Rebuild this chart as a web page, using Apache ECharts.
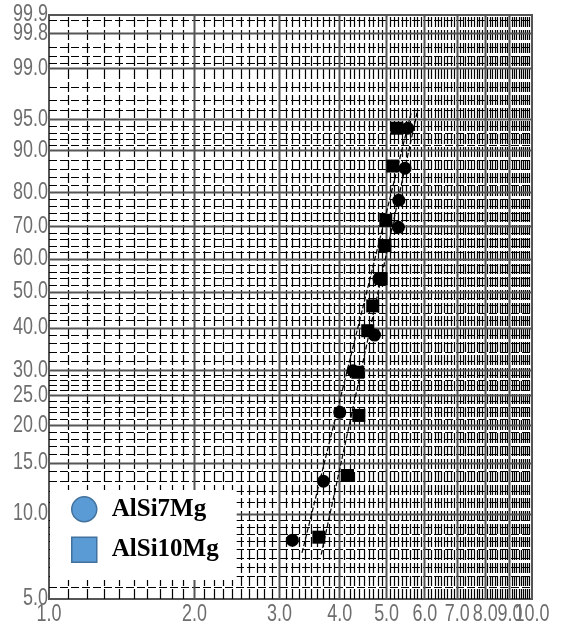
<!DOCTYPE html>
<html><head><meta charset="utf-8">
<script src="https://cdn.jsdelivr.net/npm/echarts@6/dist/echarts.min.js"></script>
<style>html,body{margin:0;padding:0;background:#fff}#c{width:572px;height:626px}</style>
</head><body><div id="c"></div>
<script>
// ---- data (x: strength-like variable on log scale, p: cumulative probability %) ----
const xAlSi7Mg  = [3.19, 3.70, 4.00, 4.26, 4.72, 4.82, 4.96, 5.29, 5.30, 5.46, 5.53];
const pAlSi7Mg  = [8.1, 13.0, 22.1, 29.9, 38.2, 54.0, 64.2, 69.9, 77.9, 86.2, 93.8];
const xAlSi10Mg = [3.62, 4.15, 4.38, 4.36, 4.57, 4.68, 4.87, 4.96, 4.98, 5.15, 5.25];
const pAlSi10Mg = [8.3, 13.6, 21.6, 29.6, 39.3, 46.0, 54.0, 64.2, 72.0, 86.7, 93.8];
// fitted lines (two end points each)
const fitAlSi7MgX  = [3.34, 5.62];
const fitAlSi7MgP  = [7.3, 95.8];
const fitAlSi10MgX = [3.66, 5.78];
const fitAlSi10MgP = [7.2, 95.8];
// tick labels
const xTickVals = [1, 2, 3, 4, 5, 6, 7, 8, 9, 10];
const xTickText = ['1.0','2.0','3.0','4.0','5.0','6.0','7.0','8.0','9.0','10.0'];
const yBottomPct = 5, yTopPct = 99.93;
const yTickVals = [5, 10, 15, 20, 25, 30, 40, 50, 60, 70, 80, 90, 95, 99, 99.8, yTopPct];
const yTickText = ['5.0','10.0','15.0','20.0','25.0','30.0','40.0','50.0','60.0','70.0','80.0','90.0','95.0','99.0','99.8','99.9'];
// probability-paper grid
const yMajorGrid = [10, 15, 20, 25, 30, 40, 50, 60, 70, 80, 90, 95, 99, 99.8];
const yMinorGrid = [5.5, 6, 6.5, 7, 7.5, 8, 8.5, 9, 9.5, 11, 12, 13, 14, 16, 17, 18, 19,
  21, 22, 23, 24, 26, 27, 28, 29, 32, 34, 36, 38, 42, 44, 46, 48, 52, 54, 56, 58,
  62, 64, 66, 68, 72, 74, 76, 78, 82, 84, 86, 88, 91, 92, 93, 94, 96, 97, 98,
  99.2, 99.4, 99.6, 99.9];
const xMajorGrid = [2, 3, 4, 5, 6, 7, 8, 9];
const xMinorGrid = [];
for (let i = 11; i < 100; i++) if (i % 10 !== 0) xMinorGrid.push(i / 10);

// Weibull probability transform
const wb = p => Math.log(-Math.log(1 - p / 100));
const yMin = wb(yBottomPct), yMax = wb(yTopPct);

const labelFont = "23px 'Liberation Sans', Arial, sans-serif";
const labelColor = '#6e6e6e';
const snap = v => Math.round(v - 0.5) + 0.5;

function hLine(style) {
  return function (params, api) {
    const t = api.value(1);
    const a = api.coord([1, t]), b = api.coord([10, t]);
    const y = snap(a[1]);
    return { type: 'line', shape: { x1: a[0], y1: y, x2: b[0], y2: y }, style: style };
  };
}
function vLine(style) {
  return function (params, api) {
    const xv = api.value(0);
    const a = api.coord([xv, yMin]), b = api.coord([xv, yMax]);
    const x = snap(a[0]);
    return { type: 'line', shape: { x1: x, y1: a[1], x2: x, y2: b[1] }, style: style };
  };
}
const solidStyle = { stroke: '#555', lineWidth: 2 };
const dashStyleH = { stroke: '#000', lineWidth: 1.1, lineDash: [8, 3] };
const dashStyleV = { stroke: '#000', lineWidth: 1.2, lineDash: [10, 3] };

const chart = echarts.init(document.getElementById('c'), null, { renderer: 'canvas' });
chart.setOption({
  animation: false,
  backgroundColor: '#fff',
  grid: { left: 49, right: 40, top: 15, bottom: 27, show: true, borderColor: '#555', borderWidth: 2, backgroundColor: '#fff' },
  xAxis: { type: 'log', logBase: 10, min: 1, max: 10, axisLine: { show: false }, axisTick: { show: false }, axisLabel: { show: false }, splitLine: { show: false } },
  yAxis: { type: 'value', min: yMin, max: yMax, axisLine: { show: false }, axisTick: { show: false }, axisLabel: { show: false }, splitLine: { show: false } },
  legend: {
    left: 50, top: 490, orient: 'vertical',
    backgroundColor: '#fff', padding: [6, 18, 17, 21],
    itemWidth: 25, itemHeight: 25, itemGap: 14,
    textStyle: { fontFamily: "'Liberation Serif', 'Times New Roman', serif", fontWeight: 'bold', fontSize: 25, color: '#000', padding: [0, 0, 0, 10] },
    data: [
      { name: 'AlSi7Mg', icon: 'circle', itemStyle: { color: '#5b9bd5', borderColor: '#41719c', borderWidth: 1.5 } },
      { name: 'AlSi10Mg', icon: 'rect', itemStyle: { color: '#5b9bd5', borderColor: '#41719c', borderWidth: 1.5 } }
    ]
  },
  series: [
    { type: 'custom', silent: true, renderItem: hLine(dashStyleH), data: yMinorGrid.map(p => [1, wb(p)]), z: 1 },
    { type: 'custom', silent: true, renderItem: vLine(dashStyleV), data: xMinorGrid.map(x => [x, yMin]), z: 1 },
    { type: 'custom', silent: true, renderItem: hLine(solidStyle), data: yMajorGrid.map(p => [1, wb(p)]), z: 1 },
    { type: 'custom', silent: true, renderItem: vLine(solidStyle), data: xMajorGrid.map(x => [x, yMin]), z: 1 },
    { type: 'custom', silent: true, clip: false,
      renderItem: function (params, api) {
        const c = api.coord([1, api.value(1)]);
        return { type: 'text', x: c[0] - 1, y: c[1], scaleX: 0.78, style: { text: yTickText[params.dataIndex], font: labelFont, fill: labelColor, align: 'right', verticalAlign: 'middle' } };
      },
      data: yTickVals.map(p => [1, wb(p)]), z: 3 },
    { type: 'custom', silent: true, clip: false,
      renderItem: function (params, api) {
        const c = api.coord([api.value(0), yMin]);
        return { type: 'text', x: c[0], y: c[1] + 16, scaleX: 0.78, style: { text: xTickText[params.dataIndex], font: labelFont, fill: labelColor, align: 'center', verticalAlign: 'middle' } };
      },
      data: xTickVals.map(x => [x, yMin]), z: 3 },
    { name: 'fit7', type: 'line', showSymbol: false, silent: true, lineStyle: { color: '#000', width: 1.2, type: [5, 2] },
      data: fitAlSi7MgX.map((x, i) => [x, wb(fitAlSi7MgP[i])]), z: 4 },
    { name: 'fit10', type: 'line', showSymbol: false, silent: true, lineStyle: { color: '#000', width: 1.2, type: [5, 2] },
      data: fitAlSi10MgX.map((x, i) => [x, wb(fitAlSi10MgP[i])]), z: 4 },
    { name: 'AlSi7Mg', type: 'scatter', symbol: 'circle', symbolSize: 13, itemStyle: { color: '#000', opacity: 1 },
      data: xAlSi7Mg.map((x, i) => [x, wb(pAlSi7Mg[i])]), z: 5 },
    { name: 'AlSi10Mg', type: 'scatter', symbol: 'rect', symbolSize: 13, itemStyle: { color: '#000', opacity: 1 },
      data: xAlSi10Mg.map((x, i) => [x, wb(pAlSi10Mg[i])]), z: 6 }
  ]
});
</script></body></html>
